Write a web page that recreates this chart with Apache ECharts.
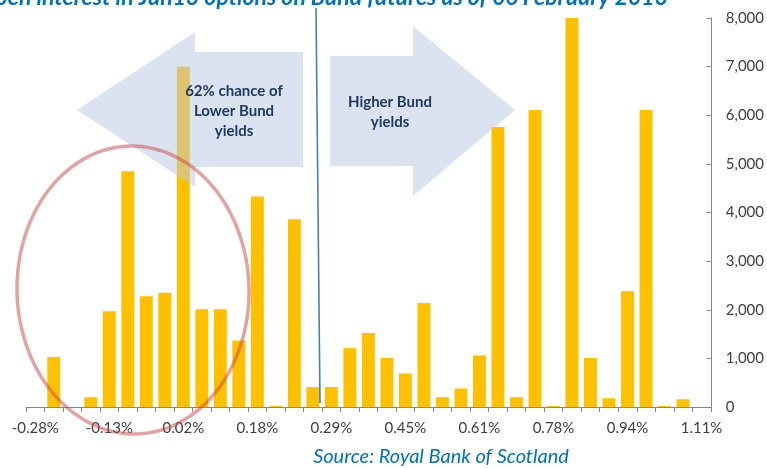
<!DOCTYPE html>
<html>
<head>
<meta charset="utf-8">
<script src="https://cdn.jsdelivr.net/npm/echarts@6/dist/echarts.min.js"></script>
<style>
  html, body { margin: 0; padding: 0; background: #fff; }
  #chart { width: 767px; height: 468px; }
</style>
</head>
<body>
<div id="chart"></div>
<script>
// Implied 10y Bund yield at each strike (x axis categories)
const yieldLevels = [
  '-0.28%', '-0.24%', '-0.21%', '-0.17%', '-0.13%', '-0.09%', '-0.06%', '-0.02%',
  '0.02%', '0.06%', '0.10%', '0.14%', '0.18%', '0.21%', '0.24%', '0.26%',
  '0.29%', '0.33%', '0.37%', '0.41%', '0.45%', '0.49%', '0.53%', '0.57%',
  '0.61%', '0.65%', '0.70%', '0.74%', '0.78%', '0.82%', '0.86%', '0.90%',
  '0.94%', '0.98%', '1.03%', '1.07%', '1.11%'
];

// Open interest (contracts) per strike
const openInterest = [
  0, 1030, 0, 200, 1970, 4850, 2280, 2350,
  7000, 2010, 2010, 1370, 4330, 20, 3860, 410,
  410, 1210, 1520, 1010, 690, 2140, 200, 380,
  1060, 5760, 200, 6110, 20, 8000, 1010, 180,
  2380, 6110, 20, 160, 0
];

// Right-hand value axis ticks
const yTicks = { min: 0, max: 8000, interval: 1000 };

const titleText = 'Open interest in Jun13 options on Bund futures as of 06 February 2013';
const sourceText = 'Source: Royal Bank of Scotland';
const lowerText = '62% chance of\nLower Bund\nyields';
const higherText = 'Higher Bund\nyields';

const chart = echarts.init(document.getElementById('chart'), null, { renderer: 'canvas' });

const axisGrey = '#868686';
const labelGrey = '#404040';
const arrowFill = 'rgba(185,200,225,0.5)';
const noteColor = '#1f3a60';

// Outline of the red ellipse around the low-yield strikes
const ellipsePts = [];
for (let k = 0; k < 120; k++) {
  const t = (k / 120) * Math.PI * 2;
  const ex = 116 * Math.cos(t), ey = 144 * Math.sin(t);
  const rot = -0.025;
  ellipsePts.push([133 + ex * Math.cos(rot) - ey * Math.sin(rot),
                   290 + ex * Math.sin(rot) + ey * Math.cos(rot)]);
}

chart.setOption({
  animation: false,
  grid: { left: 26, right: 54, top: 18, bottom: 61 },
  xAxis: {
    type: 'category',
    data: yieldLevels,
    boundaryGap: true,
    axisLine: { lineStyle: { color: axisGrey, width: 1 } },
    axisTick: { show: true, interval: 0, length: 5, lineStyle: { color: axisGrey } },
    axisLabel: {
      interval: 3,
      margin: 14,
      color: labelGrey,
      fontFamily: 'Lato',
      fontSize: 15
    },
    splitLine: { show: false }
  },
  yAxis: {
    type: 'value',
    position: 'right',
    min: yTicks.min,
    max: yTicks.max,
    interval: yTicks.interval,
    axisLine: { show: true, lineStyle: { color: axisGrey, width: 1 } },
    axisTick: { show: true, inside: true, length: 4, lineStyle: { color: axisGrey } },
    axisLabel: {
      margin: 15,
      color: labelGrey,
      fontFamily: 'Lato',
      fontSize: 15,
      formatter: v => v.toLocaleString('en-US')
    },
    splitLine: { show: false }
  },
  series: [{
    type: 'bar',
    data: openInterest,
    barCategoryGap: '30%',
    itemStyle: { color: '#ffc000' },
    z: 2
  }],
  graphic: [
    // headline, running off the top edge
    {
      type: 'text', x: 668, y: 9, z: 10,
      style: {
        text: titleText, fill: '#0070c0', align: 'right', verticalAlign: 'bottom',
        font: 'italic bold 23px Lato'
      }
    },
    // vertical marker at current yield
    {
      type: 'line', z: 10,
      shape: { x1: 316, y1: 8, x2: 320, y2: 403 },
      style: { stroke: '#4a7ebb', lineWidth: 1.6 }
    },
    // left arrow
    {
      type: 'polygon', z: 20,
      shape: { points: [[77, 110], [195, 32], [195, 52], [303, 52], [303, 167], [195, 167], [195, 187]] },
      style: { fill: arrowFill }
    },
    // right arrow
    {
      type: 'polygon', z: 20,
      shape: { points: [[330, 56], [413, 56], [413, 26], [515, 110], [413, 196], [413, 166], [330, 166]] },
      style: { fill: arrowFill }
    },
    {
      type: 'text', x: 234, y: 111, z: 30,
      style: {
        text: lowerText, fill: noteColor, align: 'center', verticalAlign: 'middle',
        font: 'bold 15px Lato', lineHeight: 20
      }
    },
    {
      type: 'text', x: 390, y: 112, z: 30,
      style: {
        text: higherText, fill: noteColor, align: 'center', verticalAlign: 'middle',
        font: 'bold 15px Lato', lineHeight: 20
      }
    },
    // red ellipse
    {
      type: 'polygon', z: 25,
      shape: { points: ellipsePts },
      style: { fill: 'none', stroke: 'rgba(205,70,70,0.5)', lineWidth: 3.5 }
    },
    // source note
    {
      type: 'text', x: 441, y: 457, z: 10,
      style: {
        text: sourceText, fill: '#0070c0', align: 'center', verticalAlign: 'middle',
        font: 'italic 20px Lato'
      }
    }
  ]
});
</script>
</body>
</html>
